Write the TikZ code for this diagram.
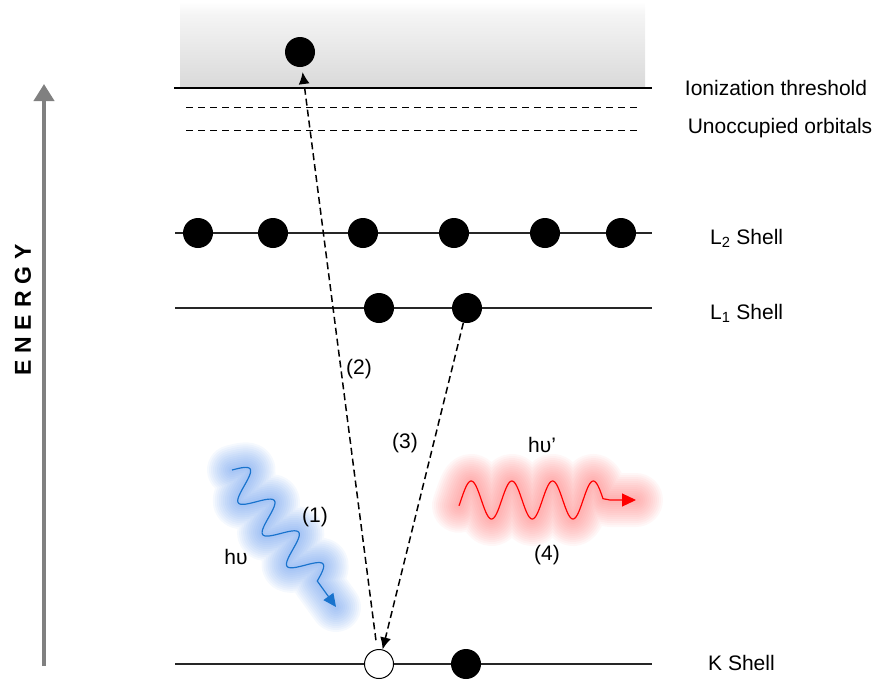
\documentclass[tikz,border=0pt]{standalone}
\usepackage{fontspec}
\setmainfont{Liberation Sans}
\newfontfamily\energyfont[LetterSpace=30]{Liberation Sans}
\usetikzlibrary{arrows.meta}
\definecolor{axisgray}{RGB}{128,128,128}
\definecolor{photonblue}{RGB}{25,115,205}
\definecolor{glowblue}{RGB}{80,140,235}
\definecolor{glowred}{RGB}{255,110,110}
\newcommand\inwave{plot[domain=0:140,samples=140] ({232+0.609*\x+0.793*15*sin(9*\x)},{470+0.793*\x-0.609*15*sin(9*\x)}) -- (inTip)}
\newcommand\outwave{plot[domain=459:603,samples=150] (\x,{500-19*sin(8.845*(\x-461))}) -- (610,500) -- (outTip)}

\begin{document}
\begin{tikzpicture}[x=1pt,y=-1pt,
  lbl/.style={font=\fontsize{21}{25}\selectfont,inner sep=0pt},
  electron/.style={circle,fill=black,minimum size=30pt,inner sep=0pt},
  vacancy/.style={circle,draw=black,fill=white,line width=1pt,minimum size=29pt,inner sep=0pt},
  level/.style={line width=1.2pt,black!85},
  orbital/.style={line width=1pt,dash pattern=on 7pt off 5pt},
  transition/.style={line width=1.5pt,dash pattern=on 7pt off 4pt,-{Latex[length=12pt,width=11pt]}},
  glow/.style={line width=#1,opacity=0.055,line cap=round,line join=round}]
\useasboundingbox (0,0) rectangle (874,681);
\coordinate (inTip) at (336,607);
\coordinate (outTip) at (636,500);
\coordinate (eBot) at (44,666);
\coordinate (eTop) at (44,84);
\foreach \w in {6,10,...,50} \draw[glowblue,glow=\w pt] \inwave;
\foreach \w in {6,10,...,54} \draw[glowred,glow=\w pt] \outwave;
\shade[top color=white,bottom color=gray!8] (180,2) rectangle (645,14);
\shade[top color=gray!8,bottom color=gray!30] (180,14) rectangle (645,88);
\draw[line width=2pt] (174,88)--(652,88);
\draw[orbital] (186,107)--(637,107);
\draw[orbital] (186,130)--(637,130);
\draw[level] (175,233)--(652,233);
\draw[level] (175,308)--(652,308);
\draw[level] (175,664)--(652,664);
\draw[axisgray,line width=4pt,-{Triangle[length=17pt,width=20pt]}] (eBot) -- (eTop);
\node[rotate=90,inner sep=0pt] (energy) at (23,310) {\fontsize{23}{27}\energyfont\bfseries ENERGY};
\node[electron] (top) at (300,52) {};
\foreach \n/\x in {a/198,b/273,c/363,d/454,e/545,f/621} \node[electron] (l2\n) at (\x,233) {};
\node[electron] (l1a) at (379,308) {};
\node[electron] (l1b) at (467,308) {};
\node[vacancy] (hole) at (379,664) {};
\node[electron] (kb) at (466,664) {};
\draw[transition,shorten <=9pt,shorten >=5pt] (hole) -- (top);
\draw[transition] (l1b) -- (hole);
\draw[photonblue,line width=1.2pt,-{Triangle[length=13pt,width=12pt]}] \inwave;
\draw[red,line width=1.2pt,-{Triangle[length=14pt,width=13pt]}] \outwave;
\node[lbl] (thrlbl) at (776,88) {Ionization threshold};
\node[lbl] (unoclbl) at (780,128) {Unoccupied orbitals};
\node[lbl,anchor=west] (l2lbl) at (710,238) {L\textsubscript{2} Shell};
\node[lbl,anchor=west] (l1lbl) at (710,313) {L\textsubscript{1} Shell};
\node[lbl,anchor=west] (klbl) at (708,663) {K Shell};
\node[lbl] (lbl2) at (359,369) {(2)};
\node[lbl] (lbl3) at (405,443) {(3)};
\node[lbl] (lbl1) at (315,517) {(1)};
\node[lbl] (hnu) at (236,557) {hυ};
\node[lbl] (hnup) at (542,445) {hυ’};
\node[lbl] (lbl4) at (547,555) {(4)};
\end{tikzpicture}
\end{document}
